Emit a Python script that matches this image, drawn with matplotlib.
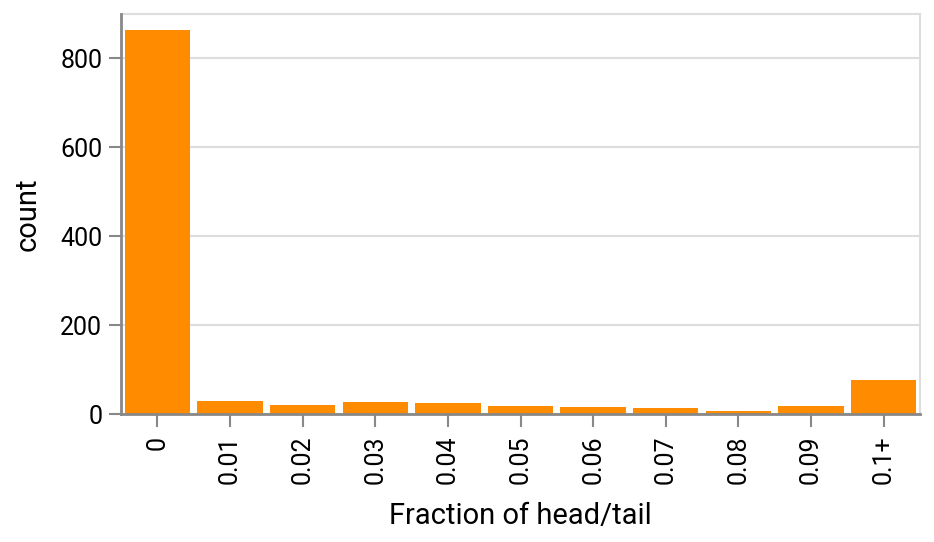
import matplotlib
matplotlib.use("Agg")
import matplotlib.pyplot as plt
import numpy as np

# data
categories = ["0", "0.01", "0.02", "0.03", "0.04", "0.05",
              "0.06", "0.07", "0.08", "0.09", "0.1+"]
counts = [865, 30, 21, 27, 25, 18, 15, 14, 7, 17, 76]

plt.rcParams.update({
    "font.family": ["Roboto", "DejaVu Sans"],
    "font.size": 18,
})

axis_col = "#888888"
grid_col = "#dddddd"

fig = plt.figure(figsize=(9.34, 5.42), dpi=100)
ax = fig.add_axes([121/934, 1 - 414/542, (920 - 121)/934, (414 - 14)/542])

x = np.arange(len(categories))
ax.bar(x, counts, width=0.9, color="#ff8c00", zorder=3)

ax.set_xlim(-0.5, len(categories) - 0.5)
ax.set_ylim(0, 900)
ax.set_yticks([0, 200, 400, 600, 800])
ax.set_xticks(x)
ax.set_xticklabels(categories, rotation=90)

ax.yaxis.grid(True, color=grid_col, linewidth=1.5, zorder=0)
ax.set_axisbelow(True)

for side in ["top", "right"]:
    ax.spines[side].set_color(grid_col)
    ax.spines[side].set_linewidth(1.5)
for side in ["left", "bottom"]:
    ax.spines[side].set_color(axis_col)
    ax.spines[side].set_linewidth(2)
    ax.spines[side].set_zorder(4)

ax.tick_params(axis="x", colors=axis_col, length=9, width=1.5,
               labelcolor="black", labelsize=18, pad=6.5)
ax.tick_params(axis="y", colors=axis_col, length=8.5, width=1.5,
               labelcolor="black", labelsize=18, pad=5)

ax.set_xlabel("Fraction of head/tail", fontsize=21, labelpad=13)
ax.set_ylabel("count", fontsize=21, labelpad=13)

fig.savefig("out.png", dpi=100)
